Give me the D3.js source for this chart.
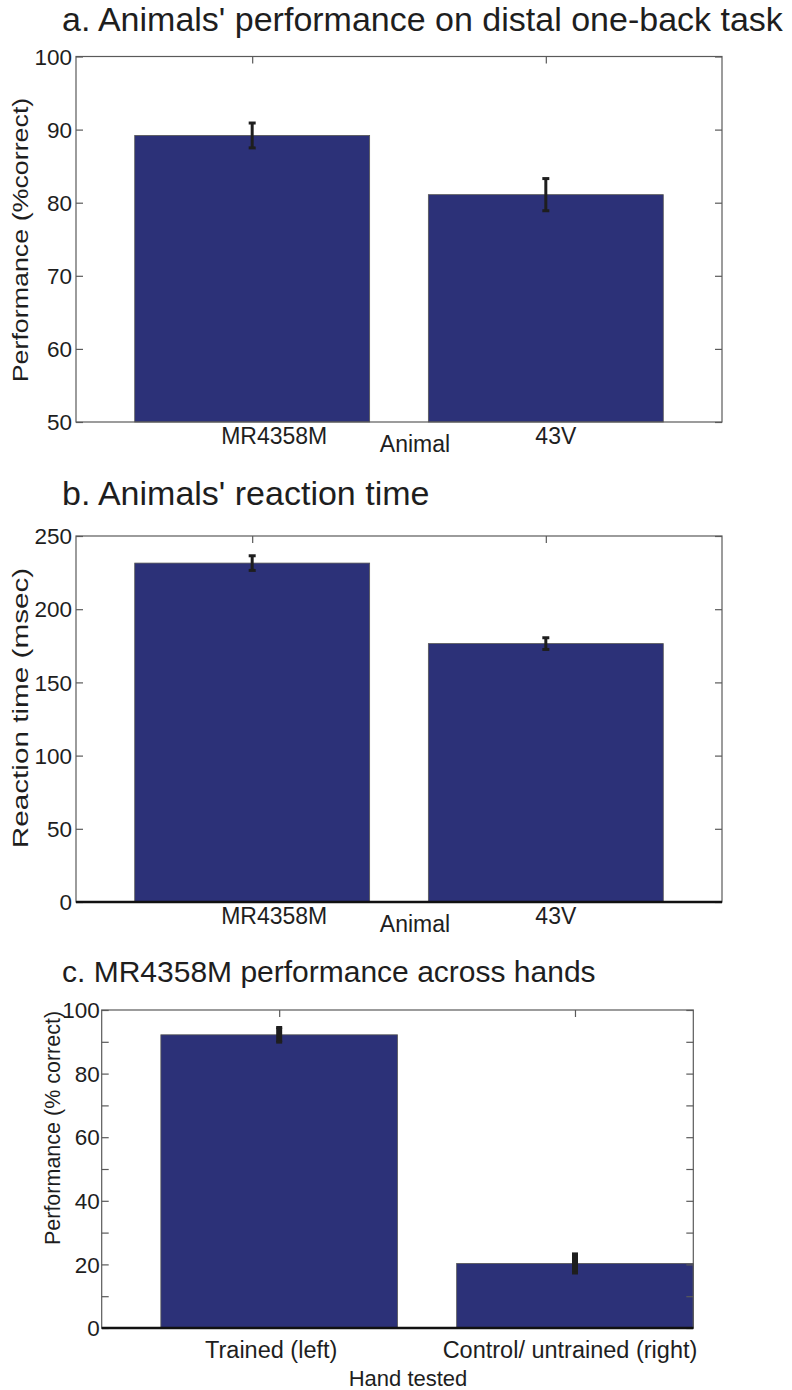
<!DOCTYPE html>
<html>
<head>
<meta charset="utf-8">
<script src="https://cdn.jsdelivr.net/npm/d3@7"></script>
<style>
  html, body { margin: 0; padding: 0; background: #fff; }
  svg { display: block; font-family: "Liberation Sans", Arial, Helvetica, sans-serif; }
</style>
</head>
<body>
<svg id="fig" width="792" height="1390"></svg>
<script>
// ---- data ----
const animals = ["MR4358M", "43V"];
const accuracy = [89.2, 81.1];          // % correct, distal one-back task
const accuracyErr = [1.7, 2.2];
const accuracyTicks = [50, 60, 70, 80, 90, 100];

const reactionMs = [231.5, 176.5];      // reaction time, msec
const reactionErr = [5, 4];
const reactionTicks = [0, 50, 100, 150, 200, 250];

const hands = ["Trained (left)", "Control/ untrained (right)"];
const handAccuracy = [92.2, 20.3];      // % correct per hand
const handErr = [2.3, 3];
const handTicks = [0, 10, 20, 30, 40, 50, 60, 70, 80, 90, 100];
const handTickLabels = [0, 20, 40, 60, 80, 100];

// ---- drawing ----
const svg = d3.select("#fig");
const BAR = "#2c3178";
const INK = "#1e1e1e";
const FRAME = "#5a5a5a";

function panel(o) {
  const g = svg.append("g");
  const x = d3.scaleLinear().domain(o.xDomain).range([o.left, o.right]);
  const y = d3.scaleLinear().domain(o.yDomain).range([o.bottom, o.top]);
  const pos = o.categories.map((c, i) => i + 1);

  // title
  g.append("text").attr("x", 62).attr("y", o.titleY)
    .attr("font-size", o.titleFont).attr("fill", INK).text(o.title);

  // bars
  g.selectAll("rect.bar").data(o.values).join("rect")
    .attr("class", "bar")
    .attr("x", (d, i) => x(pos[i] - 0.4))
    .attr("width", (d, i) => x(pos[i] + 0.4) - x(pos[i] - 0.4))
    .attr("y", d => y(d))
    .attr("height", d => y(o.yDomain[0]) - y(d))
    .attr("fill", BAR).attr("stroke", "#555").attr("stroke-width", 0.8);

  // frame
  g.append("rect").attr("x", o.left).attr("y", o.top)
    .attr("width", o.right - o.left).attr("height", o.bottom - o.top)
    .attr("fill", "none").attr("stroke", FRAME).attr("stroke-width", 1.2);

  // y ticks (inside, both sides)
  const yAxisL = d3.axisRight(y).tickValues(o.yTicks).tickSize(7).tickFormat("");
  const yAxisR = d3.axisLeft(y).tickValues(o.yTicks).tickSize(7).tickFormat("");
  g.append("g").attr("transform", `translate(${o.left},0)`).call(yAxisL)
    .call(s => s.select(".domain").remove())
    .selectAll("line").attr("stroke", FRAME).attr("stroke-width", 1.2);
  g.append("g").attr("transform", `translate(${o.right},0)`).call(yAxisR)
    .call(s => s.select(".domain").remove())
    .selectAll("line").attr("stroke", FRAME).attr("stroke-width", 1.2);

  // y tick labels
  g.selectAll("text.ytl").data(o.yLabels).join("text")
    .attr("class", "ytl")
    .attr("x", o.left - o.yLabelGap).attr("y", d => y(d)).attr("dy", "0.36em")
    .attr("text-anchor", "end").attr("font-size", 22.5).attr("fill", INK)
    .text(d => d);

  // x ticks (top, inside)
  const xAxisT = d3.axisBottom(x).tickValues(pos).tickSize(7).tickFormat("");
  g.append("g").attr("transform", `translate(0,${o.top})`).call(xAxisT)
    .call(s => s.select(".domain").remove())
    .selectAll("line").attr("stroke", FRAME).attr("stroke-width", 1.2);

  // x tick labels
  g.selectAll("text.xtl").data(o.categories).join("text")
    .attr("class", "xtl")
    .attr("x", (d, i) => x(pos[i]) + o.xLabelShift[i]).attr("y", o.bottom + o.xLabelGap)
    .attr("text-anchor", "middle").attr("font-size", o.xFont).attr("fill", INK)
    .text(d => d);

  // zero baseline
  if (o.yDomain[0] === 0) {
    g.append("line").attr("x1", o.left).attr("x2", o.right)
      .attr("y1", y(0)).attr("y2", y(0))
      .attr("stroke", "#111").attr("stroke-width", 2.6);
  }

  // error bars
  const eb = g.selectAll("g.err").data(o.values).join("g").attr("class", "err");
  eb.append("line")
    .attr("x1", (d, i) => x(pos[i])).attr("x2", (d, i) => x(pos[i]))
    .attr("y1", (d, i) => y(d - o.errors[i])).attr("y2", (d, i) => y(d + o.errors[i]))
    .attr("stroke", INK).attr("stroke-width", o.errWidth);
  ["-", "+"].forEach(sgn => {
    eb.append("line")
      .attr("x1", (d, i) => x(pos[i]) - o.capHalf).attr("x2", (d, i) => x(pos[i]) + o.capHalf)
      .attr("y1", (d, i) => y(sgn === "+" ? d + o.errors[i] : d - o.errors[i]))
      .attr("y2", (d, i) => y(sgn === "+" ? d + o.errors[i] : d - o.errors[i]))
      .attr("stroke", INK).attr("stroke-width", 3);
  });

  // axis titles
  g.append("text").attr("x", o.xTitleX).attr("y", o.bottom + o.xTitleGap)
    .attr("text-anchor", "middle").attr("font-size", o.xTitleFont).attr("fill", INK)
    .text(o.xTitle);
  g.append("text")
    .attr("transform", `translate(${o.yTitleX},${o.yTitleY}) rotate(-90) scale(${o.yTitleStretch},1)`)
    .attr("text-anchor", "middle").attr("font-size", o.yTitleFont).attr("fill", INK)
    .text(o.yTitle);
}

panel({
  title: "a. Animals' performance on distal one-back task", titleY: 31, titleFont: 34,
  categories: animals, values: accuracy, errors: accuracyErr,
  xDomain: [0.4, 2.6], yDomain: [50, 100],
  left: 76, right: 722, top: 56.5, bottom: 422,
  yTicks: accuracyTicks, yLabels: accuracyTicks, yLabelGap: 4,
  xFont: 23, xLabelGap: 22, xLabelShift: [22, 10],
  xTitle: "Animal", xTitleX: 415, xTitleGap: 30, xTitleFont: 23,
  yTitle: "Performance (%correct)", yTitleX: 28, yTitleY: 240,
  yTitleFont: 22, yTitleStretch: 1.22,
  errWidth: 3, capHalf: 3.5
});

panel({
  title: "b. Animals' reaction time", titleY: 505, titleFont: 34,
  categories: animals, values: reactionMs, errors: reactionErr,
  xDomain: [0.4, 2.6], yDomain: [0, 250],
  left: 76, right: 722, top: 536, bottom: 902,
  yTicks: reactionTicks, yLabels: reactionTicks, yLabelGap: 4,
  xFont: 23, xLabelGap: 22, xLabelShift: [22, 10],
  xTitle: "Animal", xTitleX: 415, xTitleGap: 30, xTitleFont: 23,
  yTitle: "Reaction time (msec)", yTitleX: 28, yTitleY: 708,
  yTitleFont: 22, yTitleStretch: 1.35,
  errWidth: 3, capHalf: 3.5
});

panel({
  title: "c. MR4358M performance across hands", titleY: 982, titleFont: 30,
  categories: hands, values: handAccuracy, errors: handErr,
  xDomain: [0.4, 2.4], yDomain: [0, 100],
  left: 101.7, right: 693.3, top: 1010, bottom: 1328,
  yTicks: handTicks, yLabels: handTickLabels, yLabelGap: 2,
  xFont: 23.5, xLabelGap: 30, xLabelShift: [-8, -5],
  xTitle: "Hand tested", xTitleX: 408, xTitleGap: 58, xTitleFont: 22,
  yTitle: "Performance (% correct)", yTitleX: 60, yTitleY: 1128,
  yTitleFont: 21.5, yTitleStretch: 1,
  errWidth: 6, capHalf: 3
});
</script>
</body>
</html>
